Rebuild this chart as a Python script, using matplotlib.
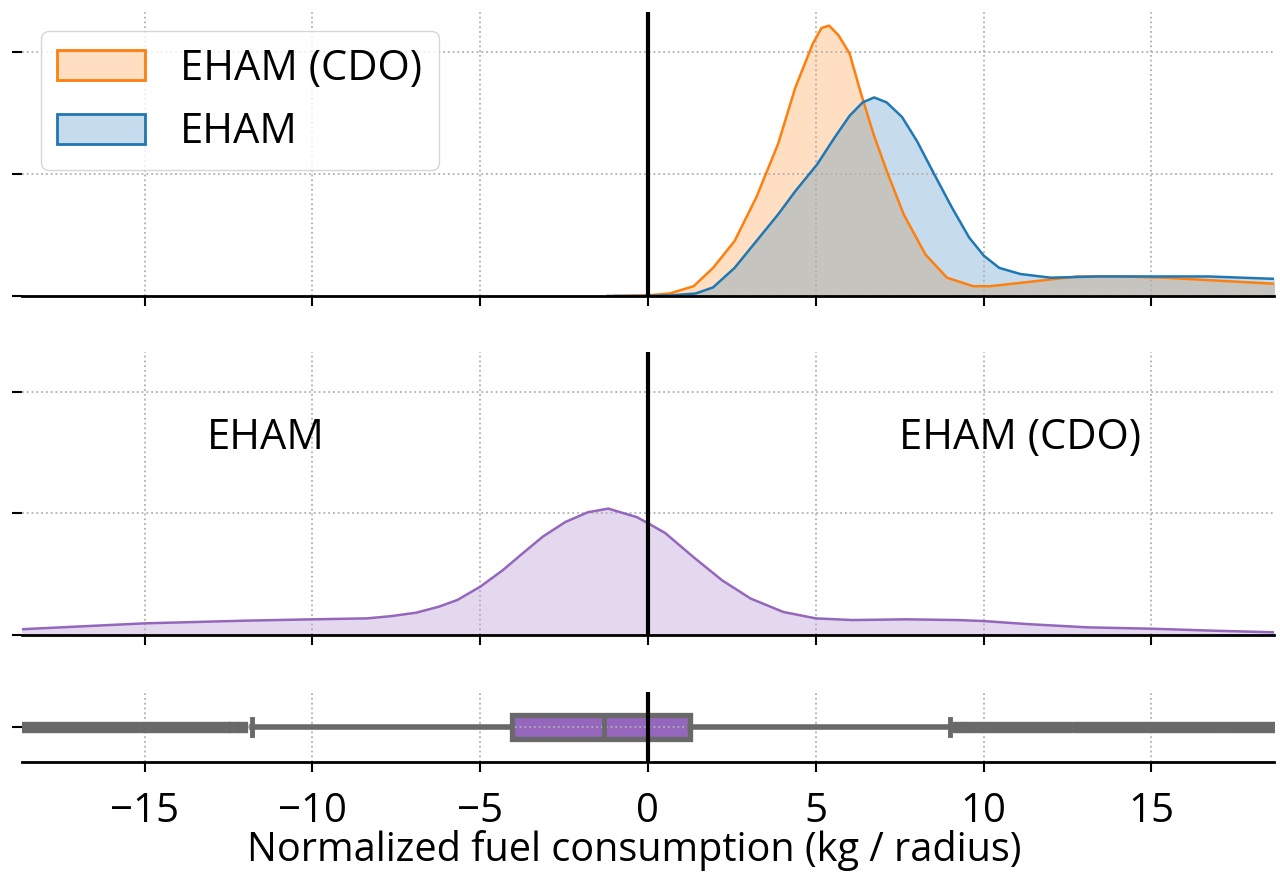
import numpy as np
import matplotlib
matplotlib.use("Agg")
import matplotlib.pyplot as plt
from matplotlib.patches import Patch

plt.rcParams['font.family'] = ['Open Sans', 'DejaVu Sans']

# density of normalized fuel consumption, EHAM with CDO (orange)
cdo_x = [-1.0, 0.0, 0.65, 1.36, 1.94, 2.58, 3.23, 3.88, 4.39, 4.91, 5.17, 5.40, 5.68,
         6.01, 6.33, 6.72, 7.11, 7.62, 8.27, 8.91, 9.69, 10.2, 11.5, 12.8, 14.1,
         15.4, 16.7, 18.7]
cdo_y = [0.0, 0.0005, 0.002, 0.008, 0.023, 0.045, 0.081, 0.125, 0.171, 0.207, 0.220,
         0.222, 0.214, 0.199, 0.168, 0.133, 0.103, 0.067, 0.034, 0.015, 0.008, 0.008,
         0.012, 0.016, 0.016, 0.015, 0.013, 0.010]

# density, EHAM without CDO (blue)
eham_x = [-1.2, 0.0, 0.7, 1.42, 1.94, 2.58, 3.23, 3.88, 4.39, 5.04, 5.56, 6.01, 6.40,
          6.74, 7.11, 7.57, 8.02, 8.53, 9.05, 9.57, 10.01, 10.47, 11.1, 12.0, 13.4,
          15.0, 16.7, 18.7]
eham_y = [0.0, 0.0, 0.0005, 0.002, 0.007, 0.023, 0.045, 0.067, 0.086, 0.108, 0.130,
          0.148, 0.159, 0.163, 0.159, 0.147, 0.127, 0.100, 0.073, 0.048, 0.033, 0.023,
          0.018, 0.015, 0.016, 0.016, 0.016, 0.014]

# density of the difference (purple)
diff_x = [-18.7, -15.0, -12.0, -10.0, -8.36, -7.63, -6.9, -6.23, -5.68, -5.0, -4.34,
          -3.74, -3.13, -2.46, -1.79, -1.18, -0.70, -0.33, 0.0, 0.51, 1.36, 2.21,
          3.06, 4.03, 5.0, 6.1, 7.67, 9.25, 10.0, 11.3, 13.1, 15.0, 16.8, 18.7]
diff_y = [0.0047, 0.0096, 0.0118, 0.0129, 0.0137, 0.0156, 0.0184, 0.0233, 0.0288,
          0.0397, 0.053, 0.067, 0.081, 0.093, 0.101, 0.104, 0.100, 0.097, 0.092,
          0.084, 0.064, 0.045, 0.030, 0.019, 0.0137, 0.0123, 0.0129, 0.0123, 0.0115,
          0.009, 0.0063, 0.0052, 0.0036, 0.0022]

# box plot summary of the difference
box_q1, box_med, box_q3 = -4.05, -1.3, 1.25
whisk_lo, whisk_hi = -11.8, 9.0
fliers_lo = [-18.9, -18.6, -18.3, -18.0, -17.7, -17.4, -17.1, -16.8, -16.5, -16.2,
             -15.9, -15.6, -15.3, -15.0, -14.7, -14.4, -14.1, -13.8, -13.5, -13.2,
             -12.9, -12.6, -12.35, -12.1]
fliers_hi = [9.25, 9.5, 9.8, 10.1, 10.4, 10.7, 11.0, 11.3, 11.6, 11.9, 12.2, 12.5,
             12.8, 13.1, 13.4, 13.7, 14.0, 14.3, 14.6, 14.9, 15.2, 15.5, 15.8, 16.1,
             16.4, 16.7, 17.0, 17.3, 17.6, 17.9, 18.2, 18.5, 18.8]

xticks = [-15, -10, -5, 0, 5, 10, 15]
c_orange = '#ff7f0e'
c_blue = '#1f77b4'
c_purple = '#9467bd'
c_gray = '#696969'

fig = plt.figure(figsize=(12.8, 8.73), dpi=100)
ax1 = fig.add_axes([0.0172, 0.661, 0.978, 0.325])
ax2 = fig.add_axes([0.0172, 0.2726, 0.978, 0.3244])
ax3 = fig.add_axes([0.0172, 0.1271, 0.978, 0.0802])


def style(ax, yt):
    for s in ['top', 'right', 'left']:
        ax.spines[s].set_visible(False)
    ax.spines['bottom'].set_linewidth(2)
    ax.set_xlim(-18.65, 18.65)
    ax.set_xticks(xticks)
    ax.set_yticks(yt)
    ax.set_yticklabels([])
    ax.tick_params(length=7, width=1.5)
    ax.grid(True, linestyle=':', color='#b0b0b0', linewidth=1.3)
    ax.axvline(0, color='black', linewidth=3, zorder=5)


# top panel
ax1.fill_between(cdo_x, cdo_y, color=c_orange, alpha=0.25, linewidth=0)
ax1.plot(cdo_x, cdo_y, color=c_orange, linewidth=1.8)
ax1.fill_between(eham_x, eham_y, color=c_blue, alpha=0.25, linewidth=0)
ax1.plot(eham_x, eham_y, color=c_blue, linewidth=1.8)
style(ax1, [0, 0.1, 0.2])
ax1.set_ylim(0, 0.233)
ax1.set_xticklabels([])
handles = [Patch(facecolor=(1.0, 0.498, 0.055, 0.25), edgecolor=c_orange, linewidth=2),
           Patch(facecolor=(0.122, 0.467, 0.706, 0.25), edgecolor=c_blue, linewidth=2)]
ax1.legend(handles, ['EHAM (CDO)', 'EHAM'], loc='upper left', fontsize=30,
           handlelength=2.1, handleheight=0.75, handletextpad=0.85, labelspacing=0.52,
           borderaxespad=0.45, borderpad=0.4, framealpha=0.8)

# middle panel
ax2.fill_between(diff_x, diff_y, color=c_purple, alpha=0.25, linewidth=0)
ax2.plot(diff_x, diff_y, color=c_purple, linewidth=1.8)
style(ax2, [0, 0.1, 0.2])
ax2.set_ylim(0, 0.233)
ax2.set_xticklabels([])
ax2.text(-11.4, 0.162, 'EHAM', fontsize=30, ha='center', va='center')
ax2.text(11.1, 0.162, 'EHAM (CDO)', fontsize=30, ha='center', va='center')

# bottom panel
stats = [dict(med=box_med, q1=box_q1, q3=box_q3, whislo=whisk_lo, whishi=whisk_hi,
              fliers=fliers_lo + fliers_hi)]
ax3.bxp(stats, positions=[0], widths=0.34, capwidths=0.22, orientation='horizontal',
        patch_artist=True,
        boxprops=dict(facecolor=c_purple, edgecolor=c_gray, linewidth=3.8, zorder=0.4),
        whiskerprops=dict(color=c_gray, linewidth=4),
        capprops=dict(color=c_gray, linewidth=3.5),
        medianprops=dict(color=c_gray, linewidth=3.5),
        flierprops=dict(marker='s', markersize=6.5, markerfacecolor=c_gray,
                        markeredgecolor=c_gray))
style(ax3, [0])
ax3.set_ylim(-0.5, 0.5)
ax3.tick_params(axis='x', labelsize=29, pad=14)
ax3.set_xlabel('Normalized fuel consumption (kg / radius)', fontsize=28.5)
ax3.xaxis.set_label_coords(0.489, -0.97)

fig.savefig('out.png', dpi=100)
